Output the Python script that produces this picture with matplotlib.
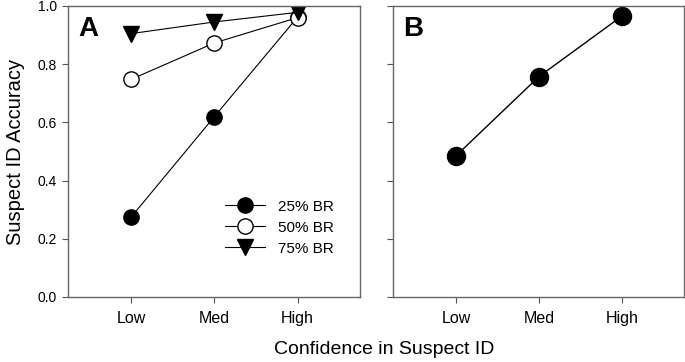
import matplotlib
matplotlib.use("Agg")
import matplotlib.pyplot as plt

plt.rcParams['font.family'] = ['Liberation Sans', 'DejaVu Sans']

# Дані
levels = ["Low", "Med", "High"]
br25 = [0.275, 0.62, 0.962]
br50 = [0.748, 0.873, 0.96]
br75 = [0.905, 0.945, 0.978]
overall = [0.485, 0.757, 0.965]

x = [1, 2, 3]

fig = plt.figure(figsize=(6.85, 3.62), dpi=100)
axA = fig.add_axes([0.0993, 0.1796, 0.4263, 0.804])
axB = fig.add_axes([0.5737, 0.1796, 0.4248, 0.804])

# Панель A
axA.plot(x, br25, color='black', lw=0.8, marker='o', ms=11,
         mfc='black', mec='black', label="25% BR")
axA.plot(x, br50, color='black', lw=0.8, marker='o', ms=11,
         mfc='white', mec='black', label="50% BR")
axA.plot(x, br75, color='black', lw=0.8, marker='v', ms=11,
         mfc='black', mec='black', label="75% BR")
axA.legend(loc='lower left', bbox_to_anchor=(0.49, 0.095), frameon=False,
           fontsize=11, handlelength=2.6, labelspacing=0.45, handletextpad=0.9)

# Панель B
axB.plot(x, overall, color='black', lw=1.0, marker='o', ms=13,
         mfc='black', mec='black')

for ax, tag in [(axA, "A"), (axB, "B")]:
    ax.set_xlim(0.24, 3.75)
    ax.set_ylim(0, 1.0)
    ax.set_xticks(x)
    ax.set_xticklabels(levels, fontsize=11.5)
    ax.set_yticks([0, 0.2, 0.4, 0.6, 0.8, 1.0])
    ax.tick_params(direction='out', length=4, color='#555555')
    ax.tick_params(axis='x', pad=6)
    ax.tick_params(axis='y', pad=4, labelsize=10)
    for s in ax.spines.values():
        s.set_color('#666666')
        s.set_linewidth(1.0)
    ax.text(0.035, 0.965, tag, transform=ax.transAxes, fontsize=20,
            fontweight='bold', va='top', ha='left')

axA.set_yticklabels(["0.0", "0.2", "0.4", "0.6", "0.8", "1.0"])
axA.set_ylabel("Suspect ID Accuracy", fontsize=14.5, labelpad=9)
axB.set_yticklabels([])

fig.text(0.561, 0.035, "Confidence in Suspect ID", fontsize=14,
         ha='center', va='center')

fig.savefig("out.png", dpi=100)
